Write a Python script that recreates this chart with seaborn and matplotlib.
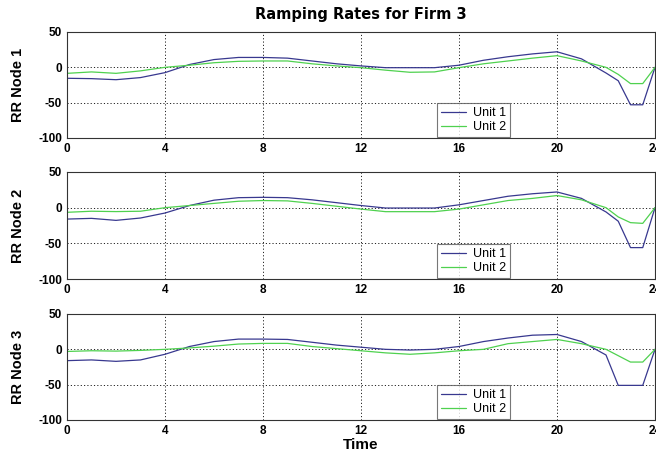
import numpy as np
import pandas as pd
import matplotlib
matplotlib.use("Agg")
import matplotlib.pyplot as plt
import seaborn as sns

# Sample times (hours)
hours = [0, 1, 2, 3, 4, 5, 6, 7, 8, 9, 10, 11, 12, 13, 14, 15, 16, 17, 18,
         19, 20, 21, 22, 22.5, 23, 23.5, 24]

# Ramping rates, Unit 1 / Unit 2, per node
unit1_node1 = [-15.5, -16, -17.5, -14.5, -7.5, 4, 11, 14, 14, 13, 9, 5, 2,
               -0.5, -0.5, -0.5, 3, 10, 15, 19, 22, 12, -8, -19, -53, -53, 0]
unit2_node1 = [-8.5, -6.5, -8.5, -5, 0, 3, 6.5, 8.5, 9, 9, 5, 2, -0.5,
               -4, -7, -6.5, -0.5, 5, 9, 13, 16.5, 9, 0, -10, -23, -23, 0]

unit1_node2 = [-16, -15, -17.8, -14.5, -7.5, 3, 10.5, 14, 14.5, 14, 11, 7, 3,
               -0.5, -0.5, -0.5, 4, 10, 16, 19.5, 22, 13, -6, -19, -56, -56, 0]
unit2_node2 = [-6.5, -5, -5.5, -5, 0, 3, 6, 9, 10, 9.5, 6, 2, -2,
               -5.6, -5.6, -5.6, -2, 4, 10, 13, 17, 11, 0, -13, -21, -22, 0]

unit1_node3 = [-16, -15, -17, -15, -7, 4, 11, 14.5, 14.5, 14, 10, 6, 3,
               0, -1, 0, 4, 11, 16, 20, 21, 11, -8, -51, -51, -51, 0]
unit2_node3 = [-3, -2, -2.5, -1.5, 0, 2, 4.5, 7.5, 8.4, 8.4, 4, 1, -2,
               -5, -7, -5, -2, 0, 8, 11, 14, 8, 0, -9, -18, -18, 0]

nodes = ["RR Node 1", "RR Node 2", "RR Node 3"]
series = [(unit1_node1, unit2_node1),
          (unit1_node2, unit2_node2),
          (unit1_node3, unit2_node3)]
units = ["Unit 1", "Unit 2"]
x_ticks = [0, 4, 8, 12, 16, 20, 24]
y_ticks = [-100, -50, 0, 50]

sns.set_theme(style="white")
plt.rcParams["font.family"] = ["Liberation Sans", "DejaVu Sans"]
plt.rcParams.update({
    "text.color": "black",
    "axes.labelcolor": "black",
    "xtick.color": "black",
    "ytick.color": "black",
    "axes.titlecolor": "black",
})

palette = {"Unit 1": "#38388f", "Unit 2": "#4fd14f"}

fig = plt.figure(figsize=(6.56, 4.54), dpi=100)
fig.patch.set_facecolor("white")

W, H = 656, 454
left, right = 67, 655
panels = [(32, 138), (172, 279), (314, 420)]

for i, ((top, bot), name, (u1, u2)) in enumerate(zip(panels, nodes, series)):
    ax = fig.add_axes([left / W, 1 - bot / H, (right - left) / W, (bot - top) / H])
    df = pd.DataFrame({
        "Time": hours * 2,
        "RR": list(u1) + list(u2),
        "Unit": [units[0]] * len(hours) + [units[1]] * len(hours),
    })
    sns.lineplot(data=df, x="Time", y="RR", hue="Unit", palette=palette,
                 linewidth=0.9, ax=ax, sort=False)
    ax.set_xlim(0, 24)
    ax.set_ylim(-100, 50)
    ax.set_xticks(x_ticks)
    ax.set_yticks(y_ticks)
    ax.set_yticklabels([str(v) for v in y_ticks])
    ax.set_xticklabels([str(v) for v in x_ticks])
    ax.tick_params(direction="in", length=3, width=0.6, color="#222222",
                   labelsize=8.5, pad=3.5, top=False, right=False,
                   labelcolor="black")
    for lab in ax.get_xticklabels() + ax.get_yticklabels():
        lab.set_fontweight("bold")
    ax.grid(True, linestyle=(0, (1.2, 2.2)), color="#222222", linewidth=0.7)
    for sp in ax.spines.values():
        sp.set_color("#333333")
        sp.set_linewidth(0.8)
    ax.set_ylabel(name, fontsize=10.5, fontweight="bold", color="black")
    ax.yaxis.set_label_coords(-0.071, 0.5)
    if i == 2:
        ax.set_xlabel("Time", fontsize=11, fontweight="bold", labelpad=1,
                      color="black")
    else:
        ax.set_xlabel("")
    if i == 0:
        ax.set_title("Ramping Rates for Firm 3", fontsize=10.5,
                     fontweight="bold", family="DejaVu Sans", pad=9,
                     color="black")
    leg = ax.legend(loc="lower left", bbox_to_anchor=(0.629, 0.012),
                    borderaxespad=0, fontsize=9, frameon=True, fancybox=False,
                    handlelength=2.0, handletextpad=0.6, labelspacing=0.15,
                    borderpad=0.3, title=None)
    leg.get_frame().set_edgecolor("#555555")
    leg.get_frame().set_linewidth(0.8)
    for t in leg.get_texts():
        t.set_color("black")
    for h in leg.get_lines():
        h.set_linewidth(0.9)

fig.savefig("out.png", dpi=100, facecolor="white")
